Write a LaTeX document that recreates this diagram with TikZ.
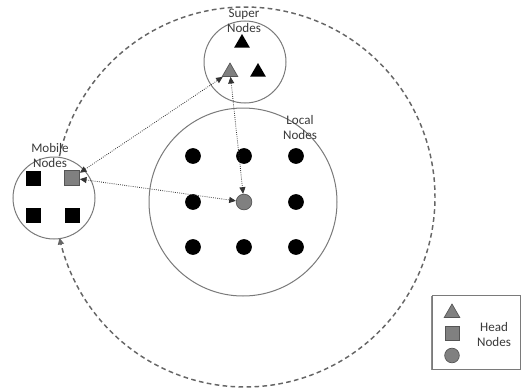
\documentclass[tikz,border=0pt]{standalone}
\usepackage{fontspec}
\setmainfont{Carlito}
\usetikzlibrary{arrows.meta,shapes.geometric}
\definecolor{rim}{HTML}{7A7A7A}
\definecolor{orbitcol}{HTML}{666666}
\definecolor{headfill}{HTML}{808080}
\definecolor{headline}{HTML}{555555}
\definecolor{txt}{HTML}{3A3A3A}
\definecolor{linkcol}{HTML}{333333}
\begin{document}
\begin{tikzpicture}[x=0.75pt,y=-0.75pt,
  zone/.style={circle,draw=rim,line width=0.75pt,fill=white,inner sep=0pt},
  dot/.style={circle,fill=black,inner sep=0pt,minimum size=11.8pt},
  sq/.style={rectangle,fill=black,inner sep=0pt,minimum size=11.25pt},
  tri/.style={regular polygon,regular polygon sides=3,fill=black,inner sep=0pt,minimum size=13.5pt},
  head/.style={fill=headfill,draw=headline,line width=0.5pt},
  lbl/.style={text=txt,font=\fontsize{9.8}{11.25}\selectfont,align=center,inner sep=0pt},
  tip/.tip={Triangle[length=5pt,width=4.5pt]},
  link/.style={draw=linkcol,densely dotted,line width=0.6pt,tip-tip},
  orbit/.style={draw=orbitcol,line width=1.1pt,dash pattern=on 3.5pt off 2.5pt,-tip}]
\useasboundingbox (0,0) rectangle (524,389);

% outer dashed orbit, ending on the mobile cluster
\draw[orbit] plot[domain=192.4:527.6,samples=140,smooth]
  ({245+190*cos(\x)},{197+190*sin(\x)});

% clusters
\node[zone,minimum size=141pt] (local) at (243,202) {};
\node[zone,minimum size=61.5pt] (super) at (245,62) {};
\node[zone,minimum size=61.5pt] (mobile) at (54,198) {};

% labels
\node[lbl] (superlbl) at (244,21) {Super\\Nodes};
\node[lbl] (mobilelbl) at (50,156) {Mobile\\Nodes};
\node[lbl] (locallbl) at (300,128) {Local\\Nodes};

% local nodes
\foreach \cx/\cy/\nm in {193/156/l1,244/156/l2,296/156/l3,
                          193/202/l4,296/202/l6,
                          193/247/l7,244/247/l8,296/247/l9}
  \node[dot] (\nm) at (\cx,\cy) {};
\node[dot,head] (lhead) at (244,202) {};

% mobile nodes
\node[sq] (m1) at (33,178) {};
\node[sq] (m3) at (33,215) {};
\node[sq] (m4) at (72,215) {};
\node[sq,head] (mhead) at (72,178) {};

% super nodes
\node[tri] (s1) at (242,43) {};
\node[tri] (s2) at (258,72) {};
\node[tri,head] (shead) at (230,72) {};

% links between head nodes
\draw[link] (mhead) -- (shead);
\draw[link] (mhead) -- (lhead);
\draw[link] (shead) -- (lhead);

% legend
\fill[black!45] (431,296) rectangle (519,370);
\node[draw=rim,fill=white,line width=0.6pt,minimum width=66pt,minimum height=55.5pt,inner sep=0pt] (legend) at (476,332) {};
\node[tri,head] (legtri) at (452,313) {};
\node[sq,head,minimum size=10.5pt] (legsq) at (452,333.5) {};
\node[dot,head,minimum size=11pt] (legdot) at (452,355.5) {};
\node[lbl] (leglbl) at (494,335) {Head\\Nodes};
\end{tikzpicture}
\end{document}
